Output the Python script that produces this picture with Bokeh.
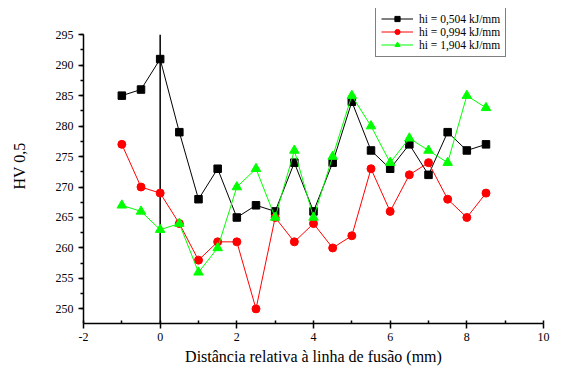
from bokeh.plotting import figure
from bokeh.models import Legend, LegendItem, SingleIntervalTicker, Range1d, PrintfTickFormatter
from bokeh.embed import file_html
from bokeh.resources import INLINE

# ---- data ----
distance = [-1, -0.5, 0, 0.5, 1, 1.5, 2, 2.5, 3, 3.5, 4, 4.5, 5, 5.5, 6, 6.5, 7, 7.5, 8, 8.5]
hv_0504 = [285, 286, 291, 279, 268, 273, 265, 267, 266, 274, 266, 274, 284, 276, 273, 277, 272, 279, 276, 277]
hv_0994 = [277, 270, 269, 264, 258, 261, 261, 250, 265, 261, 264, 260, 262, 273, 266, 272, 274, 268, 265, 269]
hv_1904 = [267, 266, 263, 264, 256, 260, 270, 273, 265, 276, 265, 275, 285, 280, 274, 278, 276, 274, 285, 283]
series_labels = ["hi = 0,504 kJ/mm", "hi = 0,994 kJ/mm", "hi = 1,904 kJ/mm"]
x_label = "Distância relativa à linha de fusão (mm)"
y_label = "HV 0,5"

X_MIN, X_MAX = -2, 10
Y_MIN, Y_MAX = 247.6, 295
Y_TOP = 299.3  # room above the axis for the legend
FUSION_LINE_X = 0

FONT = "Liberation Serif"

p = figure(width=551, height=367, output_backend="svg", toolbar_location=None,
           x_range=Range1d(X_MIN, X_MAX), y_range=Range1d(Y_MIN, Y_TOP),
           min_border_left=83, min_border_right=8, min_border_top=8, min_border_bottom=20)
p.outline_line_color = None
p.xgrid.visible = False
p.ygrid.visible = False
p.background_fill_color = "white"
p.border_fill_color = "white"

# fusion line
p.segment(x0=[FUSION_LINE_X], y0=[Y_MIN], x1=[FUSION_LINE_X], y1=[Y_MAX],
          line_color="black", line_width=1.5)

r1l = p.line(distance, hv_0504, line_color="black", line_width=1)
r1m = p.scatter(distance, hv_0504, marker="square", size=7.5, fill_color="black", line_color="black")
r2l = p.line(distance, hv_0994, line_color="#ff0000", line_width=1)
r2m = p.scatter(distance, hv_0994, marker="circle", size=8, fill_color="#ff0000", line_color="#ff0000")
r3l = p.line(distance, hv_1904, line_color="#00ff00", line_width=1)
r3m = p.scatter(distance, hv_1904, marker="triangle", size=9.5, fill_color="#00ff00", line_color="#00ff00")

# axes
xa = p.xaxis[0]
xa.ticker = SingleIntervalTicker(interval=2, num_minor_ticks=2)
xa.axis_label = x_label
ya = p.yaxis[0]
ya.ticker = SingleIntervalTicker(interval=5, num_minor_ticks=2)
ya.bounds = (Y_MIN, Y_MAX)
ya.axis_label = y_label
for ax in (xa, ya):
    ax.formatter = PrintfTickFormatter(format="%d")
    ax.axis_line_width = 1.5
    ax.axis_line_color = "black"
    ax.major_tick_line_color = "black"
    ax.minor_tick_line_color = "black"
    ax.major_tick_line_width = 1.5
    ax.minor_tick_line_width = 1.5
    ax.major_tick_in = 0
    ax.major_tick_out = 5
    ax.major_label_text_font = FONT
    ax.major_label_text_font_size = "12px"
    ax.major_label_text_color = "black"
    ax.axis_label_text_font = FONT
    ax.axis_label_text_font_size = "16px"
    ax.axis_label_text_font_style = "normal"
    ax.axis_label_text_color = "black"
xa.minor_tick_in = 3
xa.minor_tick_out = 0
ya.minor_tick_in = 0
ya.minor_tick_out = 3
xa.major_label_standoff = 4
xa.axis_label_standoff = 4
ya.major_label_standoff = 5
ya.axis_label_standoff = 25

legend = Legend(items=[
    LegendItem(label=series_labels[0], renderers=[r1l, r1m]),
    LegendItem(label=series_labels[1], renderers=[r2l, r2m]),
    LegendItem(label=series_labels[2], renderers=[r3l, r3m]),
], location=(292, 266))
legend.label_text_font = FONT
legend.label_text_font_size = "11.5px"
legend.label_text_color = "black"
legend.glyph_width = 32
legend.glyph_height = 13
legend.label_height = 13
legend.spacing = 0
legend.padding = 5
legend.margin = 0
legend.label_standoff = 6
legend.border_line_color = "black"
legend.border_line_width = 1
legend.background_fill_alpha = 1
p.add_layout(legend)

open("out.html", "w").write(file_html(p, INLINE))
